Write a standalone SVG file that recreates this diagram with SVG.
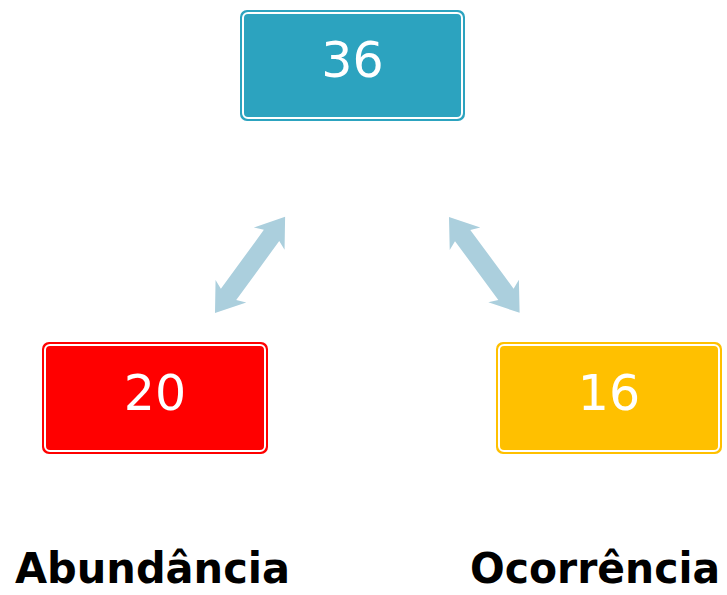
<svg xmlns="http://www.w3.org/2000/svg" width="727" height="595" viewBox="0 0 727 595">
<style>
.num{font-family:"DejaVu Sans","Liberation Sans",sans-serif;font-size:49px;fill:#fff;text-anchor:middle}
.lbl{font-family:"DejaVu Sans","Liberation Sans",sans-serif;font-size:42px;font-weight:bold;fill:#000;text-anchor:middle}
.inner{fill:none;stroke:#fff;stroke-width:2}
.arrow{fill:#abcfdd}
</style>
<rect width="727" height="595" fill="#fff"/>
<g id="connectors">
<g transform="translate(215,313) rotate(-53.9)">
<polygon class="arrow" points="0,0 27,-19 23,-9.5 96,-9.5 92,-19 119,0 92,19 96,9.5 23,9.5 27,19"/>
</g>
<g transform="translate(449,217) rotate(53.6)">
<polygon class="arrow" points="0,0 27,-19 23,-9.5 96,-9.5 92,-19 119,0 92,19 96,9.5 23,9.5 27,19"/>
</g>
</g>
<g id="node-36">
<rect x="240" y="10" width="225" height="111" rx="7" fill="#2ca3bf"/>
<rect class="inner" x="243" y="13" width="219" height="105" rx="5"/>
<text class="num" x="352.5" y="77">36</text>
</g>
<g id="node-20">
<rect x="42" y="342" width="226" height="112" rx="7" fill="#ff0000"/>
<rect class="inner" x="45" y="345" width="220" height="106" rx="5"/>
<text class="num" x="155" y="410">20</text>
</g>
<g id="node-16">
<rect x="496" y="342" width="226" height="112" rx="7" fill="#ffc000"/>
<rect class="inner" x="499" y="345" width="220" height="106" rx="5"/>
<text class="num" x="609" y="410">16</text>
</g>
<g id="label-abundancia">
<text class="lbl" x="152.5" y="583" textLength="275" lengthAdjust="spacingAndGlyphs">Abundância</text>
</g>
<g id="label-ocorrencia">
<text class="lbl" x="595" y="583" textLength="250" lengthAdjust="spacingAndGlyphs">Ocorrência</text>
</g>
</svg>
